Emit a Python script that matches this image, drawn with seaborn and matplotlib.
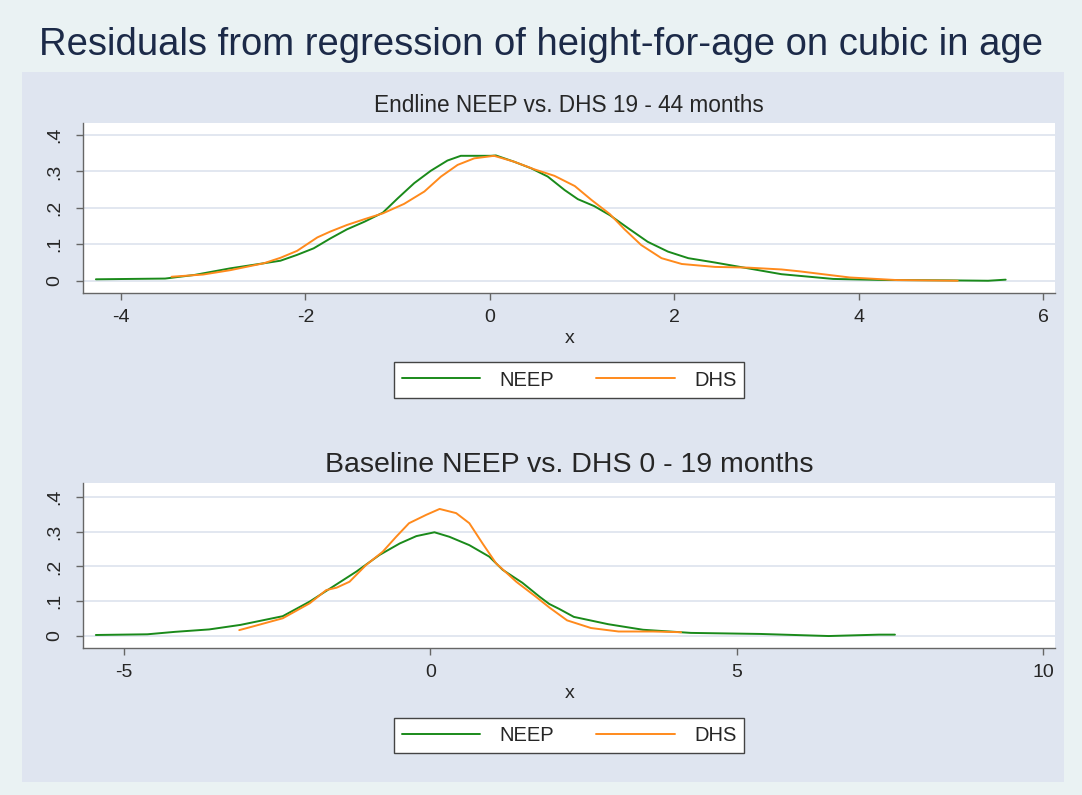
import numpy as np
import pandas as pd
import seaborn as sns
import matplotlib.pyplot as plt
from matplotlib.patches import Rectangle

# ---- data (kernel density estimates) ----
# endline, 19 - 44 months
end_neep_x = [-4.27, -3.52, -3.2, -2.815, -2.45, -2.27, -2.09, -1.91, -1.73, -1.55, -1.36,
              -1.16, -1.0, -0.82, -0.64, -0.46, -0.315, 0.01, 0.065, 0.26, 0.445, 0.627,
              0.81, 0.953, 1.13, 1.30, 1.50, 1.71, 1.93, 2.15, 2.44, 2.80, 3.16, 3.72,
              4.28, 5.0, 5.4, 5.59]
end_neep_y = [0.004, 0.006, 0.016, 0.034, 0.048, 0.055, 0.071, 0.089, 0.116, 0.141, 0.162,
              0.187, 0.226, 0.268, 0.302, 0.330, 0.343, 0.343, 0.344, 0.327, 0.309, 0.286,
              0.249, 0.224, 0.205, 0.180, 0.144, 0.107, 0.080, 0.062, 0.050, 0.034, 0.018, 0.005,
              0.002, 0.001, 0.0, 0.003]
end_dhs_x = [-3.45, -3.11, -2.815, -2.45, -2.27, -2.09, -1.87, -1.73, -1.55, -1.36, -1.16,
             -0.93, -0.71, -0.53, -0.35, -0.17, 0.045, 0.26, 0.48, 0.70, 0.92, 1.10, 1.30,
             1.46, 1.64, 1.86, 2.08, 2.44, 2.80, 3.16, 3.35, 3.9, 4.4, 5.07]
end_dhs_y = [0.011, 0.017, 0.029, 0.048, 0.063, 0.082, 0.119, 0.135, 0.153, 0.169, 0.185,
             0.211, 0.245, 0.286, 0.318, 0.336, 0.343, 0.327, 0.306, 0.288, 0.260, 0.222, 0.183,
             0.141, 0.098, 0.062, 0.046, 0.038, 0.036, 0.031, 0.026, 0.009, 0.002, 0.0]

# baseline, 0 - 19 months
base_neep_x = [-5.46, -4.62, -4.17, -3.61, -3.1, -2.41, -1.97, -1.59, -1.21, -0.83, -0.50,
               -0.23, 0.065, 0.31, 0.635, 0.96, 1.18, 1.50, 1.78, 1.94, 2.1, 2.34, 2.9, 3.47,
               4.25, 5.38, 6.5, 7.32, 7.58]
base_neep_y = [0.003, 0.005, 0.012, 0.019, 0.032, 0.057, 0.099, 0.142, 0.185, 0.233, 0.266,
               0.287, 0.298, 0.285, 0.261, 0.228, 0.190, 0.153, 0.113, 0.092, 0.078, 0.055,
               0.034, 0.018, 0.009, 0.006, 0.0, 0.004, 0.004]
base_dhs_x = [-3.12, -2.95, -2.41, -1.97, -1.70, -1.53, -1.32, -1.05, -0.78, -0.56, -0.35,
              -0.07, 0.15, 0.42, 0.635, 0.85, 1.07, 1.40, 1.72, 1.94, 2.23, 2.62, 3.07, 3.63, 4.09]
base_dhs_y = [0.017, 0.025, 0.051, 0.094, 0.132, 0.139, 0.156, 0.204, 0.242, 0.285, 0.324,
              0.348, 0.365, 0.353, 0.324, 0.266, 0.209, 0.156, 0.113, 0.082, 0.045, 0.023,
              0.013, 0.013, 0.011]

series_names = ["NEEP", "DHS"]
y_ticks = [0, 0.1, 0.2, 0.3, 0.4]
y_ticklabels = ["0", ".1", ".2", ".3", ".4"]
top_xticks = [-4, -2, 0, 2, 4, 6]
bottom_xticks = [-5, 0, 5, 10]

main_title = "Residuals from regression of height-for-age on cubic in age"
top_title = "Endline NEEP vs. DHS 19 - 44 months"
bottom_title = "Baseline NEEP vs. DHS 0 - 19 months"


def make_df(nx, ny, dx, dy):
    a = pd.DataFrame({"x": nx, "dens": ny, "series": series_names[0]})
    b = pd.DataFrame({"x": dx, "dens": dy, "series": series_names[1]})
    return pd.concat([a, b], ignore_index=True)


df_top = make_df(end_neep_x, end_neep_y, end_dhs_x, end_dhs_y)
df_bot = make_df(base_neep_x, base_neep_y, base_dhs_x, base_dhs_y)

sns.set_theme(style="white")
plt.rcParams['font.family'] = ['Liberation Sans', 'DejaVu Sans']

palette = {"NEEP": "#1a8a1a", "DHS": "#ff8a1c"}

fig = plt.figure(figsize=(10.82, 7.95), dpi=100, facecolor="#eaf2f3")
# the darker inner graph region
fig.patches.append(Rectangle((22 / 1082, 1 - 782 / 795), (1064 - 22) / 1082, (782 - 72) / 795,
                             transform=fig.transFigure, facecolor="#dfe5f0",
                             edgecolor="none", zorder=-5))

ax1 = fig.add_axes([0.0767, 0.631, 0.8988, 0.2138])
ax2 = fig.add_axes([0.0767, 0.1845, 0.8988, 0.2075])


def style_axis(ax, df, xticks, xlim, ylim, title, title_size):
    sns.lineplot(data=df, x="x", y="dens", hue="series", palette=palette,
                 linewidth=1.4, ax=ax, legend=False, estimator=None, sort=False)
    ax.set_facecolor("white")
    ax.set_xlim(*xlim)
    ax.set_ylim(*ylim)
    ax.set_xticks(xticks)
    ax.set_xticklabels([str(t) for t in xticks], fontsize=14)
    ax.set_yticks(y_ticks)
    ax.set_yticklabels(y_ticklabels, fontsize=14, rotation=90, va="center")
    ax.yaxis.grid(True, color="#dfe5ef", linewidth=1.3)
    ax.xaxis.grid(False)
    for s in ["top", "right"]:
        ax.spines[s].set_visible(False)
    for s in ["left", "bottom"]:
        ax.spines[s].set_color("#666666")
        ax.spines[s].set_linewidth(1.0)
    ax.tick_params(axis="x", direction="out", length=5, width=1, color="#666666",
                   bottom=True, pad=6)
    ax.tick_params(axis="y", direction="out", length=5, width=1, color="#666666",
                   left=True, pad=9)
    ax.set_xlabel("x", fontsize=14, labelpad=3)
    ax.set_ylabel("")
    ax.set_title(title, fontsize=title_size, pad=8)


style_axis(ax1, df_top, top_xticks, (-4.41, 6.13), (-0.0346, 0.432), top_title, 16.3)
style_axis(ax2, df_bot, bottom_xticks, (-5.67, 10.2), (-0.0353, 0.4385), bottom_title, 20.5)

fig.suptitle(main_title, fontsize=27.5, color="#1c2a48", y=1 - 45 / 795, va="center")

handles = [plt.Line2D([], [], color=palette[n], linewidth=1.4) for n in series_names]
for ycen in [1 - 380 / 795, 1 - 735.5 / 795]:
    leg = fig.legend(handles, series_names, loc="center", bbox_to_anchor=(569 / 1082, ycen),
                     ncol=2, fontsize=14.5, frameon=True, fancybox=False, handlelength=3.9,
                     handletextpad=0.95, columnspacing=2.1, borderpad=0.4, framealpha=1)
    leg.get_frame().set_edgecolor("#444444")
    leg.get_frame().set_facecolor("white")
    leg.get_frame().set_linewidth(1.0)

fig.savefig("out.png", dpi=100, facecolor=fig.get_facecolor())
